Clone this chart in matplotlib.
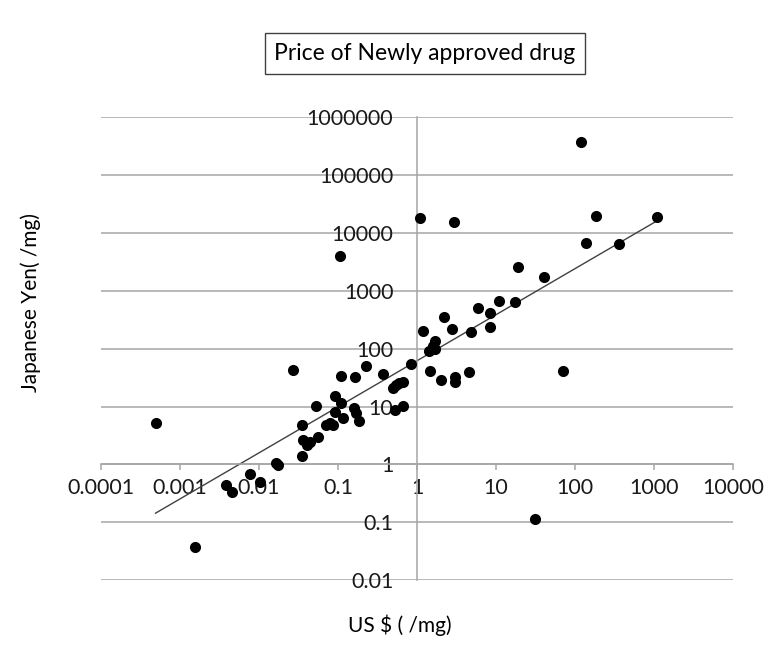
import numpy as np
import matplotlib
matplotlib.use("Agg")
import matplotlib.pyplot as plt
from matplotlib.ticker import FixedLocator, FixedFormatter

# ---- data (US $ per mg, Japanese Yen per mg) ----
usd = [0.00049, 0.00155, 0.0038, 0.0045, 0.0078, 0.0104, 0.0162, 0.0174,
       0.027, 0.0355, 0.0355, 0.036, 0.040, 0.044, 0.052, 0.056,
       0.071, 0.079, 0.087, 0.091, 0.091, 0.105, 0.108, 0.11,
       0.116, 0.158, 0.163, 0.171, 0.184, 0.229, 0.368, 0.49,
       0.55, 0.60, 0.66, 0.52, 0.665, 0.83, 1.08, 1.18,
       1.42, 1.59, 1.67, 1.67, 1.48, 2.0, 2.2, 2.8,
       2.9, 3.06, 3.0, 4.55, 4.8, 5.86, 8.3, 8.5,
       10.8, 17.4, 18.8, 31, 40.5, 70, 120, 139,
       187, 360, 1090]
yen = [5.1, 0.037, 0.44, 0.34, 0.69, 0.50, 1.07, 0.97,
       42.6, 4.9, 1.4, 2.6, 2.2, 2.4, 10.3, 3.0,
       4.9, 5.1, 4.8, 15.2, 8.1, 4000, 34, 11.4,
       6.4, 9.3, 32.5, 7.6, 5.6, 50, 36, 20.6,
       23.5, 25.7, 26.8, 8.7, 10.2, 54, 17800, 205,
       91, 110, 136, 99, 41, 28.6, 359, 219,
       15400, 31.8, 26.8, 39.8, 195, 500, 420, 233,
       660, 630, 2570, 0.116, 1700, 41.4, 365000, 6640,
       19200, 6300, 18500]

x_ticks = [1e-4, 1e-3, 1e-2, 1e-1, 1, 10, 100, 1000, 10000]
x_labels = ["0.0001", "0.001", "0.01", "0.1", "1", "10", "100", "1000", "10000"]
y_ticks = [0.01, 0.1, 1, 10, 100, 1000, 10000, 100000, 1000000]
y_labels = ["0.01", "0.1", "1", "10", "100", "1000", "10000", "100000", "1000000"]

title = "Price of Newly approved drug"
xlabel = "US $ ( /mg)"
ylabel = "Japanese Yen( /mg)"

plt.rcParams['font.family'] = ['Lato', 'DejaVu Sans']

W, H = 774, 666
fig = plt.figure(figsize=(W / 100, H / 100), dpi=100)
left, right = 101 / W, 733 / W
bottom, top = 1 - 580.3 / H, 1 - 117 / H
ax = fig.add_axes([left, bottom, right - left, top - bottom])
ax.set_xscale('log')
ax.set_yscale('log')
ax.set_xlim(1e-4, 1e4)
ax.set_ylim(0.01, 1e6)

grid_c = '#a6a6a6'
# horizontal gridlines
for yt in y_ticks:
    ax.axhline(yt, color=grid_c, lw=1.1, zorder=1)

for s in ['top', 'right']:
    ax.spines[s].set_visible(False)
ax.spines['left'].set_position(('data', 1))
ax.spines['bottom'].set_position(('data', 1))
ax.spines['left'].set_color(grid_c)
ax.spines['bottom'].set_color(grid_c)
ax.spines['left'].set_linewidth(1.1)
ax.spines['bottom'].set_linewidth(1.1)

ax.xaxis.set_major_locator(FixedLocator(x_ticks))
ax.xaxis.set_major_formatter(FixedFormatter(x_labels))
ax.xaxis.set_minor_locator(FixedLocator([]))
ax.yaxis.set_major_locator(FixedLocator(y_ticks))
ax.yaxis.set_major_formatter(FixedFormatter(y_labels))
ax.yaxis.set_minor_locator(FixedLocator([]))
ax.tick_params(axis='x', direction='out', length=4, width=1.1, color=grid_c,
               labelsize=15.5, pad=6, labelcolor='#1a1a1a')
ax.tick_params(axis='y', length=0, labelsize=15.5, pad=17, labelcolor='#1a1a1a')

# trend line (power fit, least squares in log space)
lx = np.log10(usd)
ly = np.log10(yen)
b, a = np.polyfit(lx, ly, 1)
xs = np.array([min(usd), max(usd)])
ax.plot(xs, 10 ** (a + b * np.log10(xs)), color='#404040', lw=1.0, zorder=2)

ax.scatter(usd, yen, s=64, color='black', zorder=3, linewidths=0)

fig.text(425 / W, 1 - 53.5 / H, title, ha='center', va='center', fontsize=16.5,
         bbox=dict(boxstyle='square,pad=0.42', fc='white', ec='#404040', lw=1))
fig.text(399.5 / W, 1 - 625 / H, xlabel, ha='center', va='center', fontsize=15)
fig.text(31 / W, 1 - 302.5 / H, ylabel, ha='center', va='center', fontsize=15,
         rotation=90)

fig.savefig('out.png', dpi=100)
